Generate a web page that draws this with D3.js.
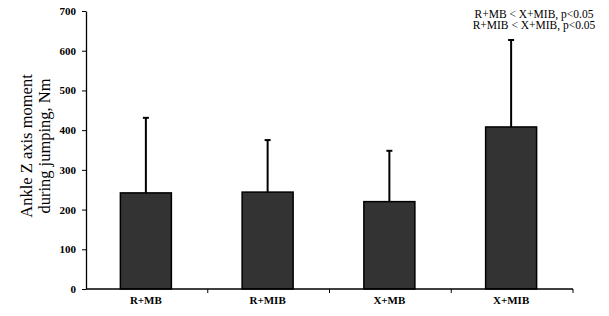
<!DOCTYPE html>
<html>
<head>
<meta charset="utf-8">
<script src="https://cdn.jsdelivr.net/npm/d3@7"></script>
<style>
  body { margin: 0; background: #fff; }
  svg { display: block; }
</style>
</head>
<body>
<div id="app"></div>
<script>
// data
const groups = ["R+MB", "R+MIB", "X+MB", "X+MIB"];
const means = [242, 244, 220, 408];
const sds = [189, 131, 128, 219];
const yTicks = [0, 100, 200, 300, 400, 500, 600, 700];
const notes = ["R+MB < X+MIB, p<0.05", "R+MIB < X+MIB, p<0.05"];

let width = 609, height = 316;
let mLeft = 86, mRight = 573, mTop = 11, mBottom = 289;

let svg = d3.select("#app")
    .append("svg")
        .attr("width", width)
        .attr("height", height)
        .style("font-family", "'Liberation Serif', 'Times New Roman', serif");

let x = d3.scaleBand()
    .domain(groups)
    .range([mLeft, mRight])
    .paddingInner(0)
    .paddingOuter(0);

let y = d3.scaleLinear()
    .domain([0, 700])
    .range([mBottom, mTop]);

let barW = 51;

// bars
svg.append("g").selectAll("rect")
    .data(groups)
    .enter().append("rect")
        .attr("x", (d) => x(d) + x.bandwidth() / 2 - barW / 2 - 1)
        .attr("y", (d, i) => y(means[i]))
        .attr("width", barW)
        .attr("height", (d, i) => y(0) - y(means[i]))
        .attr("fill", "#333")
        .attr("stroke", "#000")
        .attr("stroke-width", 1.5);

// error bars (upper only)
let err = svg.append("g").attr("stroke", "#000").attr("stroke-width", 2);
groups.forEach((g, i) => {
    let cx = x(g) + x.bandwidth() / 2 - 1;
    err.append("line")
        .attr("x1", cx).attr("x2", cx)
        .attr("y1", y(means[i])).attr("y2", y(means[i] + sds[i]));
    err.append("line")
        .attr("x1", cx - 3).attr("x2", cx + 3)
        .attr("y1", y(means[i] + sds[i])).attr("y2", y(means[i] + sds[i]));
});

// y axis
let yAxis = svg.append("g")
    .attr("transform", "translate(" + mLeft + ",0)")
    .call(d3.axisLeft(y).tickValues(yTicks).tickSize(4).tickSizeOuter(0));
yAxis.select(".domain").attr("stroke-width", 1.3);
yAxis.selectAll("text")
    .attr("font-size", 11)
    .attr("font-weight", "bold")
    .attr("font-family", "'Liberation Serif', serif")
    .attr("dx", "-3");

// x axis with ticks at category boundaries
let xAxis = svg.append("g")
    .attr("transform", "translate(0," + mBottom + ")");
xAxis.append("line")
    .attr("x1", mLeft).attr("x2", mRight)
    .attr("stroke", "#000").attr("stroke-width", 1.3);
xAxis.selectAll("line.bd")
    .data(groups)
    .enter().append("line")
        .attr("class", "bd")
        .attr("x1", (d) => x(d) + x.bandwidth())
        .attr("x2", (d) => x(d) + x.bandwidth())
        .attr("y1", 0).attr("y2", 4)
        .attr("stroke", "#000");
xAxis.selectAll("text")
    .data(groups)
    .enter().append("text")
        .attr("x", (d) => x(d) + x.bandwidth() / 2 - 1)
        .attr("y", 15)
        .attr("text-anchor", "middle")
        .attr("font-size", 11)
        .attr("font-weight", "bold")
        .text((d) => d);

// y label
let yl = svg.append("text")
    .attr("transform", "translate(39,146) rotate(-90)")
    .attr("text-anchor", "middle")
    .attr("font-size", 16.5);
yl.append("tspan").attr("x", 0).attr("dy", "-0.4em").text("Ankle Z axis moment");
yl.append("tspan").attr("x", 0).attr("dy", "1.05em").text("during jumping, Nm");

// significance notes
svg.append("g").selectAll("text")
    .data(notes)
    .enter().append("text")
        .attr("x", 534)
        .attr("y", (d, i) => 17.5 + i * 11.5)
        .attr("text-anchor", "middle")
        .attr("font-size", 11.5)
        .text((d) => d);
</script>
</body>
</html>
